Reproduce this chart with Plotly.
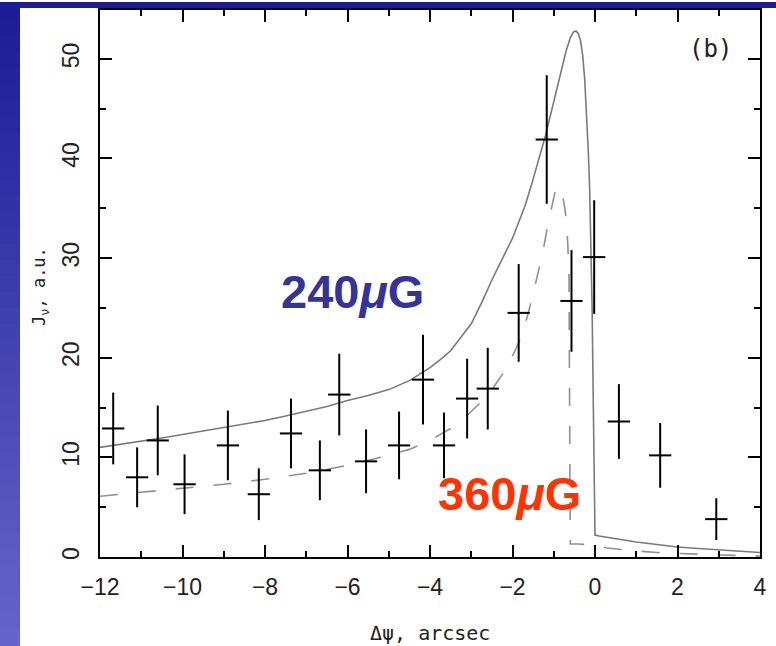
import plotly.graph_objects as go

# ---- data ----
pt_x = [-11.68, -11.1, -10.6, -9.95, -8.9, -8.15, -7.37, -6.67, -6.2, -5.55, -4.75,
        -4.17, -3.66, -3.1, -2.6, -1.85, -1.17, -0.57, -0.02, 0.58, 1.58, 2.94]
pt_y = [12.9, 8.0, 11.7, 7.3, 11.2, 6.3, 12.4, 8.7, 16.3, 9.6, 11.2,
        17.8, 11.2, 15.9, 16.9, 24.5, 41.9, 25.7, 30.1, 13.6, 10.2, 3.8]
pt_err_y = [3.6, 3.0, 3.5, 3.0, 3.5, 2.6, 3.5, 3.0, 4.1, 3.2, 3.4,
            4.5, 3.3, 4.0, 4.1, 4.9, 6.45, 5.1, 5.7, 3.75, 3.25, 2.1]
pt_err_x = [0.27] * len(pt_x)

solid_x = [-12, -11.5, -11, -10.5, -10, -9.5, -9, -8.5, -8, -7.5, -7, -6.5, -6, -5.5, -5,
           -4.5, -4, -3.75, -3.5, -3.25, -3, -2.75, -2.5, -2.25, -2, -1.85, -1.7, -1.55,
           -1.4, -1.3, -1.2, -1.1, -1.0, -0.9, -0.8, -0.7, -0.6, -0.52, -0.46, -0.4, -0.35,
           -0.3, -0.25, -0.2, -0.16, -0.13, -0.1, -0.07, -0.04, -0.015, 0.0, 0.1, 0.5, 1,
           1.5, 2, 2.5, 3, 3.5, 4]
solid_y = [11.0, 11.3, 11.6, 11.95, 12.3, 12.65, 13.0, 13.35, 13.7, 14.15, 14.6, 15.1, 15.7,
           16.2, 16.8, 17.7, 19.0, 19.8, 20.7, 22.0, 23.4, 25.5, 27.8, 29.9, 32.0, 33.6,
           35.2, 37.2, 39.3, 40.8, 42.3, 44.0, 45.7, 47.5, 49.2, 50.8, 52.1, 52.7, 52.8,
           52.5, 51.8, 50.4, 48.0, 44.5, 40.5, 37.0, 32.0, 25.0, 15.0, 6.0, 2.2, 2.1, 1.8,
           1.5, 1.25, 1.0, 0.85, 0.7, 0.55, 0.45]

dash_x = [-12, -11, -10, -9, -8, -7, -6, -5, -4.5, -4, -3.5, -3.25, -3, -2.75, -2.5, -2.25,
          -2.1, -1.95, -1.8, -1.65, -1.5, -1.38, -1.26, -1.15, -1.04, -0.97, -0.9, -0.85,
          -0.8, -0.75, -0.7, -0.66, -0.63, -0.61, -0.6, -0.4, -0.2, 0, 0.3, 0.7, 1, 1.5,
          2, 2.5, 3, 3.5, 4]
dash_y = [6.1, 6.5, 6.9, 7.3, 7.8, 8.4, 9.2, 10.2, 10.8, 11.7, 12.9, 13.7, 14.6, 15.6, 16.8,
          18.3, 19.4, 20.6, 22.0, 24.0, 26.4, 28.5, 30.7, 33.2, 35.4, 36.6, 37.2, 37.1,
          36.5, 35.5, 34.0, 31.5, 28.0, 15.0, 1.3, 1.3, 1.25, 1.2, 0.9, 0.7, 0.6, 0.45,
          0.35, 0.25, 0.2, 0.15, 0.1]

x_ticks = [-12, -10, -8, -6, -4, -2, 0, 2, 4]
x_ticklabels = ["\u221212", "\u221210", "\u22128", "\u22126", "\u22124", "\u22122", "0", "2", "4"]
y_ticks = [0, 10, 20, 30, 40, 50]

fig = go.Figure()

fig.add_trace(go.Scatter(x=solid_x, y=solid_y, mode="lines",
                         line=dict(color="#7a7a7a", width=1.6), showlegend=False))
fig.add_trace(go.Scatter(x=dash_x, y=dash_y, mode="lines",
                         line=dict(color="#909090", width=1.6, dash="18px,20px"),
                         showlegend=False))
fig.add_trace(go.Scatter(
    x=pt_x, y=pt_y, mode="markers",
    marker=dict(size=1, color="black"),
    error_y=dict(type="data", array=pt_err_y, visible=True, width=0, thickness=2, color="black"),
    error_x=dict(type="data", array=pt_err_x, visible=True, width=0, thickness=2, color="black"),
    showlegend=False))

# slide background: left gradient strip and top bar (paper coords)
W, H = 776, 646
L, R, T, B = 100, 16, 8, 89
pw, ph = W - L - R, H - T - B

def px2paper_x(p):
    return (p - L) / pw

def px2paper_y(p):
    return (H - B - p) / ph

shapes = []
n = 40
top_c = (28, 28, 150)
bot_c = (102, 100, 200)
for i in range(n):
    f = i / (n - 1)
    c = tuple(int(round(top_c[k] + (bot_c[k] - top_c[k]) * f)) for k in range(3))
    y0 = H * i / n
    y1 = H * (i + 1) / n + 1
    shapes.append(dict(type="rect", xref="paper", yref="paper",
                       x0=px2paper_x(0), x1=px2paper_x(20),
                       y0=px2paper_y(y1), y1=px2paper_y(y0),
                       fillcolor="rgb(%d,%d,%d)" % c, line=dict(width=0), layer="above"))
shapes.append(dict(type="rect", xref="paper", yref="paper",
                   x0=px2paper_x(0), x1=px2paper_x(W),
                   y0=px2paper_y(6), y1=px2paper_y(0),
                   fillcolor="rgb(30,28,152)", line=dict(width=0), layer="above"))

tickfont = dict(family="Liberation Sans, Arial, sans-serif", size=23, color="#222222")

fig.update_layout(
    width=W, height=H,
    margin=dict(l=L, r=R, t=T, b=B),
    paper_bgcolor="white", plot_bgcolor="white",
    shapes=shapes,
    xaxis=dict(range=[-12, 4], tickvals=x_ticks, ticktext=x_ticklabels,
               ticks="inside", ticklen=12, tickwidth=1.5, tickcolor="black",
               showline=True, linecolor="black", linewidth=2, mirror="ticks",
               showgrid=False, zeroline=False, tickfont=tickfont, ticklabelstandoff=8,
               minor=dict(dtick=1, ticks="inside", ticklen=6, tickwidth=1.5,
                          tickcolor="black", showgrid=False)),
    yaxis=dict(range=[0, 54.9], tickvals=y_ticks,
               ticks="inside", ticklen=12, tickwidth=1.5, tickcolor="black",
               showline=True, linecolor="black", linewidth=2, mirror="ticks",
               showgrid=False, zeroline=False, tickfont=tickfont, tickangle=-90,
               ticklabelstandoff=10,
               minor=dict(dtick=5, ticks="inside", ticklen=6, tickwidth=1.5,
                          tickcolor="black", showgrid=False)),
    annotations=[
        dict(x=-5.89, y=26.6, xref="x", yref="y", text="<b>240<i>\u03bc</i>G</b>",
             showarrow=False, xanchor="center", yanchor="middle",
             font=dict(family="Liberation Sans, Arial", size=47, color="#333399")),
        dict(x=-2.08, y=6.4, xref="x", yref="y", text="<b>360<i>\u03bc</i>G</b>",
             showarrow=False, xanchor="center", yanchor="middle",
             font=dict(family="Liberation Sans, Arial", size=47, color="#FF3300")),
        dict(x=2.81, y=51.0, xref="x", yref="y", text="(b)",
             showarrow=False, xanchor="center", yanchor="middle",
             font=dict(family="DejaVu Sans Mono", size=24, color="#222222")),
        dict(x=px2paper_x(41), y=px2paper_y(285), xref="paper", yref="paper",
             text="J<sub>\u03bd</sub>, a.u.", textangle=-90, showarrow=False,
             xanchor="center", yanchor="middle",
             font=dict(family="DejaVu Sans Mono", size=17, color="#222222")),
        dict(x=px2paper_x(430), y=px2paper_y(633), xref="paper", yref="paper",
             text="\u0394\u03c8, arcsec", showarrow=False,
             xanchor="center", yanchor="middle",
             font=dict(family="DejaVu Sans Mono", size=20, color="#222222")),
    ],
)

fig.write_html("out.html", config={"displayModeBar": False},
               post_script="document.body.style.margin='0px';")
